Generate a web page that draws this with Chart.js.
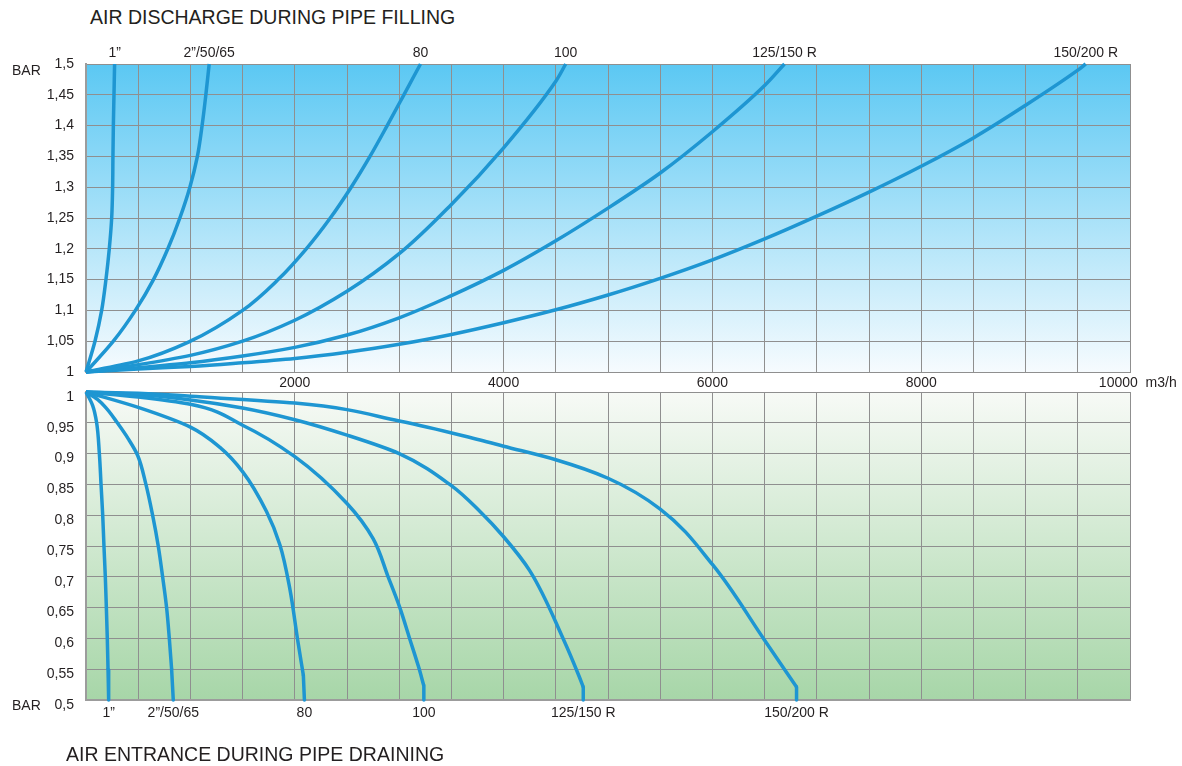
<!DOCTYPE html>
<html>
<head>
<meta charset="utf-8">
<script src="https://cdn.jsdelivr.net/npm/chart.js@4.4.1/dist/chart.umd.min.js"></script>
<style>
  body { margin: 0; background: #fff; font-family: "Liberation Sans", Arial, sans-serif; color: #231f20; }
  #wrap { position: relative; width: 1182px; height: 766px; overflow: hidden; }
  .title { position: absolute; font-size: 19.5px; line-height: 1; white-space: nowrap; }
  .bar { position: absolute; left: 12px; font-size: 14px; line-height: 1; }
  canvas { position: absolute; left: 0; }
</style>
</head>
<body>
<div id="wrap">
  <div class="title" style="left:90px; top:8px;">AIR DISCHARGE DURING PIPE FILLING</div>
  <canvas id="fillChart" style="top:0px" width="1182" height="392"></canvas>
  <canvas id="drainChart" style="top:384px" width="1182" height="382"></canvas>
  <div class="bar" style="top:63px;">BAR</div>
  <div class="bar" style="top:698px;">BAR</div>
  <div class="title" style="left:66px; top:745px;">AIR ENTRANCE DURING PIPE DRAINING</div>
</div>
<script>
// valve sizes
const sizes = ["1”", "2”/50/65", "80", "100", "125/150 R", "150/200 R"];

// air discharge during filling: flow m3/h vs pressure bar
const fill_1_flow = [0, 86, 150, 191, 223, 246, 255, 258, 262, 268, 274];
const fill_1_bar = [1, 1.05, 1.1, 1.15, 1.2, 1.25, 1.3, 1.35, 1.4, 1.45, 1.5];
const fill_2_flow = [0, 262, 473, 646, 784, 899, 995, 1067, 1112, 1148, 1180];
const fill_2_bar = [1, 1.05, 1.1, 1.15, 1.2, 1.25, 1.3, 1.35, 1.4, 1.45, 1.5];
const fill_80_flow = [0, 500, 1000, 1500, 1840, 2110, 2340, 2540, 2720, 2885, 3045, 3204];
const fill_80_bar = [1, 1.018, 1.05, 1.1, 1.15, 1.2, 1.25, 1.3, 1.35, 1.4, 1.45, 1.5];
const fill_100_flow = [0, 500, 1000, 1500, 2000, 2500, 3000, 3500, 4000, 4500, 4595];
const fill_100_bar = [1, 1.012, 1.027, 1.05, 1.084, 1.131, 1.192, 1.272, 1.364, 1.472, 1.5];
const fill_125_flow = [0, 500, 1000, 1500, 2000, 2500, 3000, 3500, 4000, 4500, 5000, 5500, 6000, 6500, 6690];
const fill_125_bar = [1, 1.007, 1.015, 1.026, 1.04, 1.06, 1.088, 1.124, 1.165, 1.213, 1.266, 1.323, 1.39, 1.465, 1.5];
const fill_150_flow = [0, 500, 1000, 1500, 2000, 2500, 3000, 3500, 4000, 4500, 5000, 5500, 6000, 6500, 7000, 7500, 8000, 8500, 9000, 9500, 9576];
const fill_150_bar = [1, 1.005, 1.009, 1.015, 1.022, 1.032, 1.045, 1.061, 1.08, 1.101, 1.125, 1.152, 1.182, 1.216, 1.253, 1.292, 1.334, 1.38, 1.433, 1.49, 1.5];

// air entrance during draining
const drain_1_flow = [0, 64, 102, 128, 144, 160, 172, 185, 195, 204, 211, 217];
const drain_1_bar = [1, 0.978, 0.95, 0.9, 0.85, 0.8, 0.75, 0.7, 0.65, 0.6, 0.55, 0.5];
const drain_2_flow = [0, 110, 198, 300, 405, 495, 574, 638, 692, 734, 772, 798, 820, 836];
const drain_2_bar = [1, 0.988, 0.973, 0.95, 0.924, 0.897, 0.85, 0.8, 0.75, 0.7, 0.65, 0.6, 0.55, 0.5];
const drain_80_flow = [0, 500, 1000, 1283, 1503, 1729, 1857, 1953, 2025, 2082, 2092];
const drain_80_bar = [1, 0.975, 0.943, 0.91, 0.87, 0.806, 0.752, 0.68, 0.6, 0.54, 0.5];
const drain_100_flow = [0, 500, 1000, 1500, 2000, 2500, 2750, 2894, 3006, 3105, 3187, 3236, 3236];
const drain_100_bar = [1, 0.992, 0.98, 0.946, 0.895, 0.819, 0.762, 0.7, 0.65, 0.597, 0.553, 0.523, 0.5];
const drain_125_flow = [0, 500, 1000, 1500, 2000, 2500, 3000, 3500, 3774, 4000, 4250, 4577, 4722, 4763, 4763];
const drain_125_bar = [1, 0.996, 0.987, 0.974, 0.955, 0.93, 0.9, 0.848, 0.806, 0.765, 0.71, 0.597, 0.539, 0.521, 0.5];
const drain_150_flow = [0, 500, 1000, 2000, 3000, 3774, 4000, 4500, 5000, 5500, 6000, 6500, 6806, 6806];
const drain_150_bar = [1, 0.998, 0.993, 0.982, 0.953, 0.922, 0.912, 0.89, 0.86, 0.81, 0.72, 0.597, 0.521, 0.5];

// axes
const flowMax = 10000;
const flowGridStep = 500;
const flowLabelValues = [2000, 4000, 6000, 8000, 10000];
const flowUnit = "m3/h";
const fillBarTicks = [1, 1.05, 1.1, 1.15, 1.2, 1.25, 1.3, 1.35, 1.4, 1.45, 1.5];
const drainBarTicks = [0.5, 0.55, 0.6, 0.65, 0.7, 0.75, 0.8, 0.85, 0.9, 0.95, 1];

const fillSeries = [
  [fill_1_flow, fill_1_bar], [fill_2_flow, fill_2_bar], [fill_80_flow, fill_80_bar],
  [fill_100_flow, fill_100_bar], [fill_125_flow, fill_125_bar], [fill_150_flow, fill_150_bar]
];
const drainSeries = [
  [drain_1_flow, drain_1_bar], [drain_2_flow, drain_2_bar], [drain_80_flow, drain_80_bar],
  [drain_100_flow, drain_100_bar], [drain_125_flow, drain_125_bar], [drain_150_flow, drain_150_bar]
];

const lineColor = "#1e96d2";
const gridColor = "#8f8f8f";
const textColor = "#231f20";

Chart.defaults.font.family = "'Liberation Sans', Arial, sans-serif";
Chart.defaults.font.size = 14;
Chart.defaults.color = textColor;

function lineSet(label, pts, smooth) {
  return {
    label: label,
    data: pts,
    xAxisID: "x",
    yAxisID: "y",
    borderColor: lineColor,
    borderWidth: 3.5,
    borderCapStyle: smooth ? "butt" : "round",
    pointRadius: 0,
    cubicInterpolationMode: smooth ? "monotone" : "default",
    tension: 0,
    clip: false
  };
}

// straightTail: last segment drawn straight so the kink stays sharp
function toDatasets(series, straightTail) {
  const out = [];
  series.forEach((s, i) => {
    const pts = s[0].map((x, j) => ({ x: x, y: s[1][j] }));
    if (straightTail) {
      out.push(lineSet(sizes[i], pts.slice(0, -1), true));
      out.push(lineSet(sizes[i], pts.slice(-2), false));
    } else {
      out.push(lineSet(sizes[i], pts, true));
    }
  });
  return out;
}

function barText(v) {
  return String(+v.toFixed(2)).replace(".", ",");
}

// gradient behind the plot area
const areaFill = {
  id: "areaFill",
  beforeDraw(chart, args, opts) {
    const { ctx, chartArea: a } = chart;
    const g = ctx.createLinearGradient(0, a.top, 0, a.bottom);
    g.addColorStop(0, opts.top);
    g.addColorStop(1, opts.bottom);
    ctx.save();
    ctx.fillStyle = g;
    ctx.fillRect(a.left, a.top, a.right - a.left, a.bottom - a.top);
    ctx.restore();
  }
};

const fillEnds = fillSeries.map(s => s[0][s[0].length - 1]);
const drainEnds = drainSeries.map(s => s[0][s[0].length - 1]);

function noPad(s) {
  s.paddingTop = 0;
  s.paddingBottom = 0;
}

new Chart(document.getElementById("fillChart"), {
  type: "line",
  data: { datasets: toDatasets(fillSeries, false) },
  plugins: [areaFill],
  options: {
    responsive: false,
    animation: false,
    indexAxis: "y",
    layout: { padding: { left: 0, right: 52, top: 0, bottom: 0 } },
    plugins: {
      legend: { display: false },
      tooltip: { enabled: false },
      areaFill: { top: "#5bc8f3", bottom: "#f6fbfe" }
    },
    scales: {
      x: {
        type: "linear", position: "bottom", min: 0, max: flowMax,
        ticks: {
          stepSize: flowGridStep, autoSkip: false, maxRotation: 0, padding: 3,
          callback: v => {
            if (!flowLabelValues.includes(v)) return "";
            return v === flowMax ? "    " + v + "  " + flowUnit : String(v);
          }
        },
        grid: { color: gridColor, lineWidth: 1, drawTicks: false },
        border: { color: gridColor, width: 1 },
        afterFit: s => { s.height = 20; }
      },
      xTop: {
        type: "linear", position: "top", min: 0, max: flowMax,
        afterBuildTicks: s => { s.ticks = fillEnds.map(v => ({ value: v })); },
        ticks: { autoSkip: false, maxRotation: 0, padding: 2, callback: (v, i) => sizes[i] },
        grid: { display: false, drawTicks: false },
        border: { display: false },
        afterFit: s => { s.height = 64; }
      },
      y: {
        type: "linear", position: "left", min: 1, max: 1.5,
        afterBuildTicks: s => { s.ticks = fillBarTicks.map(v => ({ value: v })); },
        ticks: { padding: 12, callback: v => barText(v) },
        grid: { color: gridColor, lineWidth: 1, drawTicks: false },
        border: { color: "#9c9c9c", width: 2 },
        afterFit: s => { s.width = 86; noPad(s); }
      }
    }
  }
});

new Chart(document.getElementById("drainChart"), {
  type: "line",
  data: { datasets: toDatasets(drainSeries, true) },
  plugins: [areaFill],
  options: {
    responsive: false,
    animation: false,
    indexAxis: "y",
    layout: { padding: { left: 0, right: 52, top: 8, bottom: 0 } },
    plugins: {
      legend: { display: false },
      tooltip: { enabled: false },
      areaFill: { top: "#f7faf6", bottom: "#a7d6a8" }
    },
    scales: {
      x: {
        type: "linear", position: "bottom", min: 0, max: flowMax, weight: 0,
        ticks: { stepSize: flowGridStep, autoSkip: false, display: false },
        grid: { color: gridColor, lineWidth: 1, drawTicks: false },
        border: { color: "#9c9c9c", width: 2 },
        afterFit: s => { s.height = 0; }
      },
      xSize: {
        type: "linear", position: "bottom", min: 0, max: flowMax, weight: 1,
        afterBuildTicks: s => { s.ticks = drainEnds.map(v => ({ value: v })); },
        ticks: { autoSkip: false, maxRotation: 0, padding: 5, callback: (v, i) => sizes[i] },
        grid: { display: false, drawTicks: false },
        border: { display: false },
        afterFit: s => { s.height = 66; }
      },
      y: {
        type: "linear", position: "left", min: 0.5, max: 1,
        afterBuildTicks: s => { s.ticks = drainBarTicks.map(v => ({ value: v })); },
        ticks: { padding: 12, labelOffset: 5, callback: v => barText(v) },
        grid: { color: gridColor, lineWidth: 1, drawTicks: false },
        border: { color: "#9c9c9c", width: 2 },
        afterFit: s => { s.width = 86; noPad(s); }
      }
    }
  }
});
</script>
</body>
</html>
